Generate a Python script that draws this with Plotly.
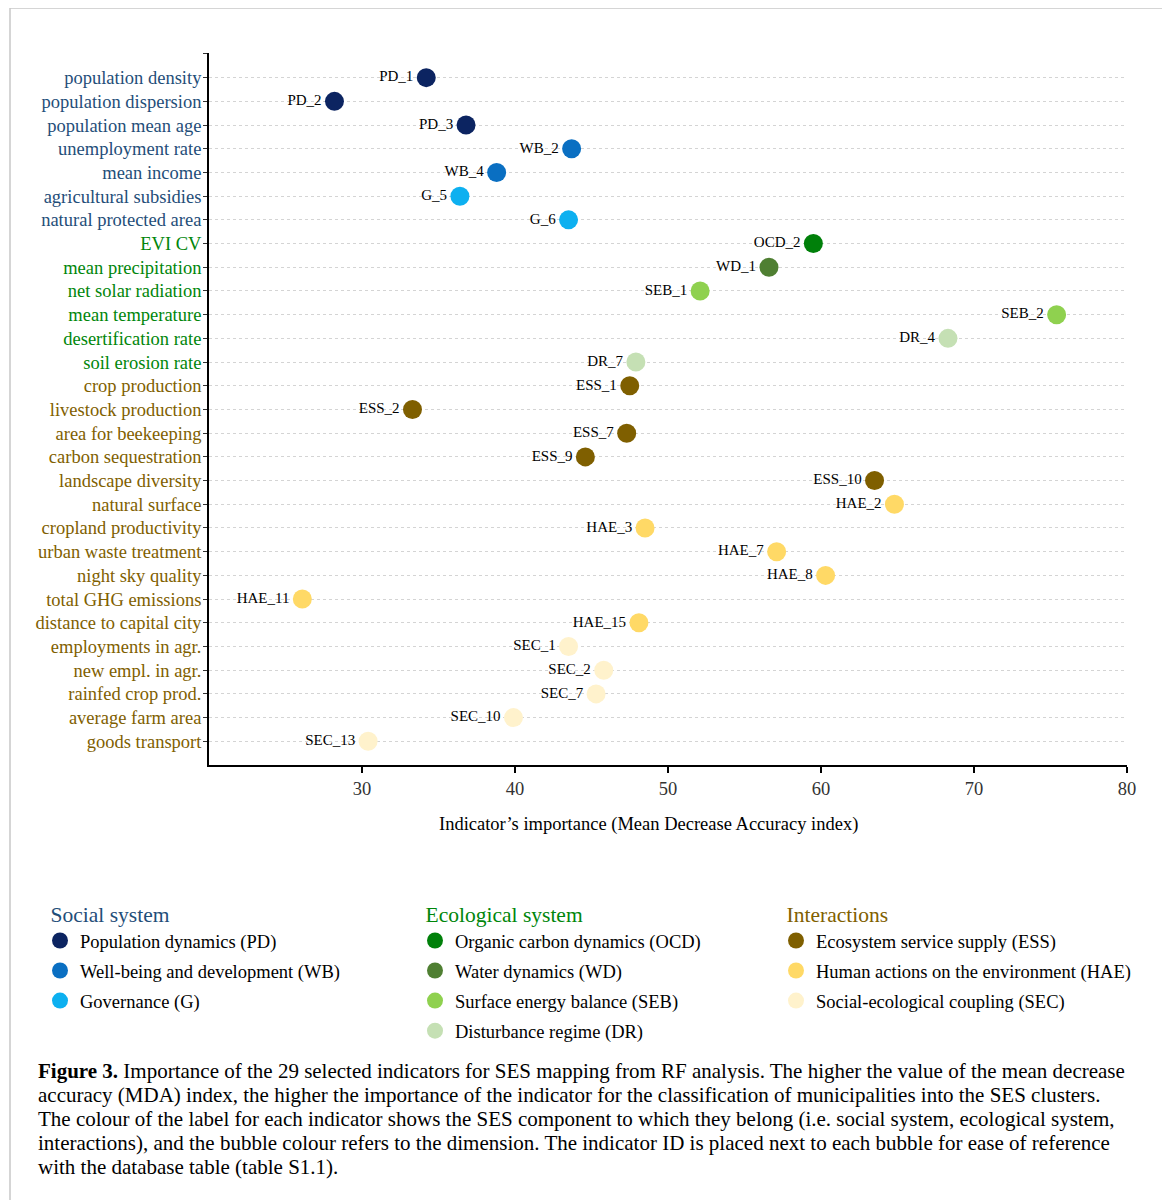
import plotly.graph_objects as go

# ---------------- data ----------------
indicators = [
    "population density", "population dispersion", "population mean age",
    "unemployment rate", "mean income", "agricultural subsidies",
    "natural protected area", "EVI CV", "mean precipitation",
    "net solar radiation", "mean temperature", "desertification rate",
    "soil erosion rate", "crop production", "livestock production",
    "area for beekeeping", "carbon sequestration", "landscape diversity",
    "natural surface", "cropland productivity", "urban waste treatment",
    "night sky quality", "total GHG emissions", "distance to capital city",
    "employments in agr.", "new empl. in agr.", "rainfed crop prod.",
    "average farm area", "goods transport",
]
ids = [
    "PD_1", "PD_2", "PD_3", "WB_2", "WB_4", "G_5", "G_6", "OCD_2", "WD_1",
    "SEB_1", "SEB_2", "DR_4", "DR_7", "ESS_1", "ESS_2", "ESS_7", "ESS_9",
    "ESS_10", "HAE_2", "HAE_3", "HAE_7", "HAE_8", "HAE_11", "HAE_15",
    "SEC_1", "SEC_2", "SEC_7", "SEC_10", "SEC_13",
]
mda = [
    34.2, 28.2, 36.8, 43.7, 38.8, 36.4, 43.5, 59.5, 56.6,
    52.1, 75.4, 68.3, 47.9, 47.5, 33.3, 47.3, 44.6,
    63.5, 64.8, 48.5, 57.1, 60.3, 26.1, 48.1,
    43.5, 45.8, 45.3, 39.9, 30.4,
]
components = (["social"] * 7) + (["ecological"] * 6) + (["interactions"] * 16)

dimension_codes = ["PD", "WB", "G", "OCD", "WD", "SEB", "DR", "ESS", "HAE", "SEC"]
dimension_names = [
    "Population dynamics (PD)", "Well-being and development (WB)", "Governance (G)",
    "Organic carbon dynamics (OCD)", "Water dynamics (WD)", "Surface energy balance (SEB)",
    "Disturbance regime (DR)",
    "Ecosystem service supply (ESS)", "Human actions on the environment (HAE)",
    "Social-ecological coupling (SEC)",
]
dimension_colors = [
    "#0c2461", "#0a6fc2", "#0db0f0",
    "#00800a", "#4f7f32", "#8fd14f", "#c5e0b4",
    "#7f5f00", "#ffd966", "#fff2cc",
]
dimension_component = ["social"] * 3 + ["ecological"] * 4 + ["interactions"] * 3

component_titles = {"social": "Social system", "ecological": "Ecological system",
                    "interactions": "Interactions"}
component_colors = {"social": "#1f4e79", "ecological": "#00860a", "interactions": "#7f6000"}

x_ticks = [30, 40, 50, 60, 70, 80]

caption_lines = [
    "<b>Figure 3.</b> Importance of the 29 selected indicators for SES mapping from RF analysis. "
    "The higher the value of the mean decrease",
    "accuracy (MDA) index, the higher the importance of the indicator for the classification "
    "of municipalities into the SES clusters.",
    "The colour of the label for each indicator shows the SES component to which they belong "
    "(i.e. social system, ecological system,",
    "interactions), and the bubble colour refers to the dimension. The indicator ID is placed "
    "next to each bubble for ease of reference",
    "with the database table (table S1.1).",
]

# ---------------- figure ----------------
FONT = "Liberation Serif, Times New Roman, serif"
OFF = 8                      # page offset of the rendered figure
W, H = 1162, 1192
PLOT_L, PLOT_R, PLOT_T, PLOT_B = 209, 1127, 53, 765   # in reference page pixels
L = PLOT_L - OFF
T = PLOT_T - OFF
R = W - (PLOT_R - OFF)
B = H - (PLOT_B - OFF)
PW, PH = PLOT_R - PLOT_L, PLOT_B - PLOT_T

def px2x(px):
    return (px - PLOT_L) / PW

def py2y(py):
    return (PLOT_B - py) / PH

fig = go.Figure()
legend_of = {"social": "legend", "ecological": "legend2", "interactions": "legend3"}

for code, name, col, comp in zip(dimension_codes, dimension_names, dimension_colors, dimension_component):
    idx = [i for i, s in enumerate(ids) if s.rsplit("_", 1)[0] == code]
    fig.add_trace(go.Scatter(
        x=[mda[i] for i in idx],
        y=[i for i in idx],
        text=[ids[i] for i in idx],
        mode="markers+text",
        textposition="middle left",
        textfont=dict(family=FONT, size=15, color="black"),
        marker=dict(size=19, color=col, line=dict(width=0)),
        name=name,
        legend=legend_of[comp],
        legendgroup=code,
        hoverinfo="x+text",
    ))

ticktext = [""] + [f'<span style="color:{component_colors[c]}">{lab}</span>'
                   for lab, c in zip(indicators, components)]
tickvals = [-1] + list(range(len(indicators)))

fig.update_layout(
    width=W, height=H,
    margin=dict(l=L, r=R, t=T, b=B),
    paper_bgcolor="white", plot_bgcolor="white",
    font=dict(family=FONT, size=16, color="black"),
    showlegend=True,
    xaxis=dict(
        range=[20, 80], tickvals=x_ticks, ticks="outside", ticklen=6, tickwidth=1.5,
        tickcolor="black", showline=True, linecolor="black", linewidth=1.8,
        showgrid=False, zeroline=False, tickfont=dict(size=18.5, color="#333"),
    ),
    yaxis=dict(
        range=[29.0, -1.04], tickvals=tickvals, ticktext=ticktext, ticks="outside",
        ticklen=4, tickcolor="#333", showline=True, linecolor="black", linewidth=1.8,
        showgrid=True, gridcolor="#d4d4d4", griddash="dot", gridwidth=1.2,
        zeroline=False, tickfont=dict(size=18.5), ticklabelstandoff=-2,
    ),
)

legend_common = dict(
    orientation="v", xanchor="left", yanchor="top",
    font=dict(family=FONT, size=18.5, color="black"),
    itemsizing="trace", tracegroupgap=3, bgcolor="rgba(0,0,0,0)",
    itemwidth=30,
)
TS = "\u2009\u2009"
fig.update_layout(
    legend=dict(x=px2x(40), y=py2y(894),
                title=dict(text=TS + component_titles["social"],
                           font=dict(size=21.5, color=component_colors["social"])),
                **legend_common),
    legend2=dict(x=px2x(415), y=py2y(894),
                 title=dict(text=TS + component_titles["ecological"],
                            font=dict(size=21.5, color=component_colors["ecological"])),
                 **legend_common),
    legend3=dict(x=px2x(776), y=py2y(894),
                 title=dict(text=TS + component_titles["interactions"],
                            font=dict(size=21.5, color=component_colors["interactions"])),
                 **legend_common),
)

fig.add_annotation(
    text="Indicator\u2019s importance (Mean Decrease Accuracy index)",
    xref="paper", yref="paper", x=px2x(648), y=py2y(824),
    xanchor="center", yanchor="middle", showarrow=False,
    font=dict(family=FONT, size=18.5, color="black"),
)

for k, line in enumerate(caption_lines):
    fig.add_annotation(
        text=line, xref="paper", yref="paper", x=px2x(36), y=py2y(1071 + 24 * k),
        xanchor="left", yanchor="middle", align="left", showarrow=False,
        font=dict(family=FONT, size=21, color="black"),
    )

# outer frame
fig.add_shape(type="rect", xref="paper", yref="paper",
              x0=px2x(10), x1=px2x(1166), y0=py2y(1215), y1=py2y(8),
              line=dict(color="#c8c8c8", width=1.5), fillcolor="rgba(0,0,0,0)", layer="below")

fig.write_html("out.html")
